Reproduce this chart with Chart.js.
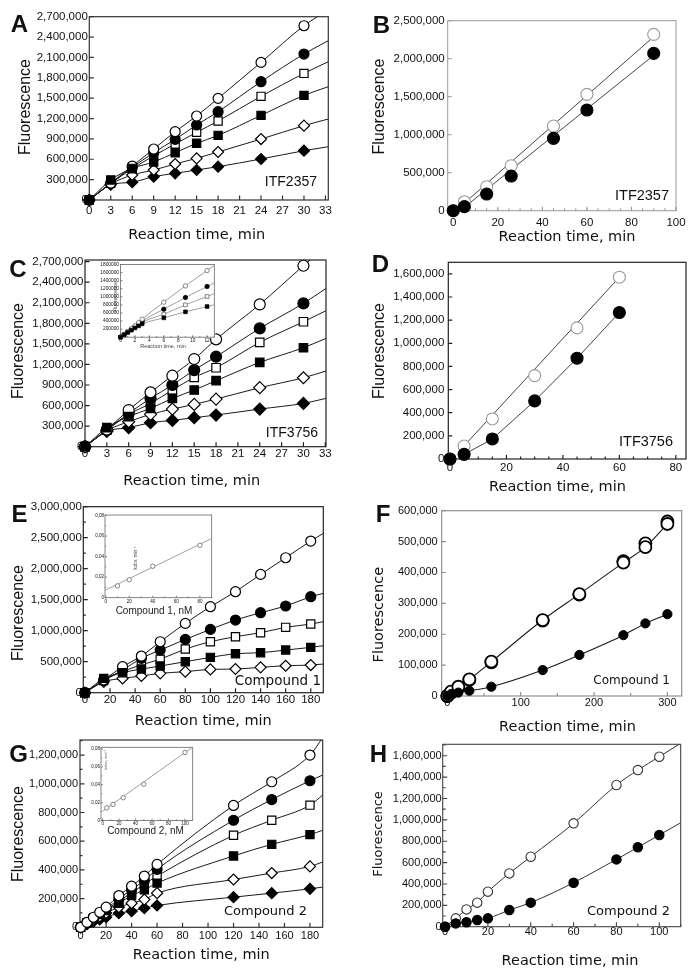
<!DOCTYPE html>
<html>
<head>
<meta charset="utf-8">
<title>Fluorescence progress curves</title>
<script src="https://cdn.jsdelivr.net/npm/chart.js@4.4.1/dist/chart.umd.min.js"></script>
<style>
  body { margin: 0; background: #fff; }
  #page { position: relative; width: 695px; height: 977px; background: #fff; }
  #page canvas { position: absolute; left: 0; top: 0; }
</style>
</head>
<body>
<div id="page"></div>
<script>
// ---------- A: ITF2357, 0-30 min ----------
const timeA = [0, 3, 6, 9, 12, 15, 18, 24, 30];
const aOpenCircle = [0, 250000, 500000, 751000, 1006000, 1237000, 1497000, 2027000, 2567000];
const aFilledCircle = [0, 245000, 480000, 697000, 893000, 1105000, 1301000, 1743000, 2150000];
const aOpenSquare = [0, 245000, 460000, 650000, 825000, 997000, 1163000, 1527000, 1865000];
const aFilledSquare = [0, 295000, 466000, 560000, 697000, 835000, 952000, 1247000, 1541000];
const aOpenDiamond = [0, 235000, 368000, 442000, 530000, 614000, 707000, 898000, 1095000];
const aFilledDiamond = [0, 225000, 262000, 344000, 393000, 442000, 491000, 604000, 726000];
const aLineEndX = 33.4;
const aLineEnd = [2800000, 2347000, 2037000, 1669000, 1193000, 785000];
const xTicksA = [0, 3, 6, 9, 12, 15, 18, 21, 24, 27, 30, 33];
const yTicksA = [0, 300000, 600000, 900000, 1200000, 1500000, 1800000, 2100000, 2400000, 2700000];

// ---------- B: ITF2357, 0-90 min ----------
const timeB = [0, 5, 15, 26, 45, 60, 90];
const bOpenCircle = [0, 118000, 316000, 592000, 1114000, 1531000, 2320000];
const bFilledCircle = [0, 53000, 219000, 456000, 952000, 1325000, 2070000];
const bFitX = [5, 90];
const bOpenFit = [100000, 2290000];
const bFilledFit = [45000, 2045000];
const xTicksB = [0, 20, 40, 60, 80, 100];
const yTicksB = [0, 500000, 1000000, 1500000, 2000000, 2500000];

// ---------- C: ITF3756, 0-30 min ----------
const timeC = [0, 3, 6, 9, 12, 15, 18, 24, 30];
const cOpenCircle = [0, 250000, 535000, 793000, 1036000, 1279000, 1566000, 2076000, 2640000];
const cFilledCircle = [0, 245000, 486000, 705000, 900000, 1118000, 1313000, 1726000, 2091000];
const cOpenSquare = [0, 240000, 470000, 632000, 827000, 1011000, 1152000, 1522000, 1823000];
const cFilledSquare = [0, 277000, 440000, 559000, 705000, 827000, 963000, 1230000, 1444000];
const cOpenDiamond = [0, 235000, 365000, 472000, 549000, 617000, 695000, 861000, 1006000];
const cFilledDiamond = [0, 225000, 277000, 350000, 384000, 423000, 462000, 549000, 632000];
const cLineEndX = 33.1;
const cLineEnd = [2920000, 2309000, 1984000, 1580000, 1104000, 705000];
const xTicksC = [0, 3, 6, 9, 12, 15, 18, 21, 24, 27, 30, 33];
const yTicksC = [0, 300000, 600000, 900000, 1200000, 1500000, 1800000, 2100000, 2400000, 2700000];

// C inset: first 12 min
const timeCi = [0, 0.5, 1, 1.5, 2, 2.5, 3, 6, 9, 12];
const ciOpenCircle = [0, 70000, 140000, 210000, 280000, 360000, 446000, 867000, 1271000, 1651000];
const ciFilledCircle = [0, 65000, 130000, 195000, 260000, 330000, 400000, 694000, 983000, 1255000];
const ciOpenSquare = [0, 62000, 125000, 185000, 245000, 305000, 370000, 570000, 801000, 1007000];
const ciFilledSquare = [0, 60000, 120000, 175000, 230000, 280000, 330000, 479000, 628000, 760000];
const ciLineEndX = 13;
const ciLineEnd = [1778000, 1346000, 1076000, 804000];
const xTicksCi = [0, 2, 4, 6, 8, 10, 12];
const yTicksCi = [200000, 400000, 600000, 800000, 1000000, 1200000, 1400000, 1600000, 1800000];

// ---------- D: ITF3756, 0-60 min ----------
const timeD = [0, 5, 15, 30, 45, 60];
const dOpenCircle = [0, 112000, 346000, 721000, 1133000, 1571000];
const dFilledCircle = [0, 40000, 173000, 502000, 871000, 1266000];
const dOpenFitX = [3.3, 60];
const dOpenFit = [69000, 1571000];
const xTicksD = [0, 20, 40, 60, 80];
const yTicksD = [0, 200000, 400000, 600000, 800000, 1000000, 1200000, 1400000, 1600000];

// ---------- E: Compound 1, 0-180 min ----------
const timeE = [0, 15, 30, 45, 60, 80, 100, 120, 140, 160, 180];
const eOpenCircle = [0, 205000, 419000, 591000, 822000, 1118000, 1387000, 1629000, 1908000, 2177000, 2446000];
const eFilledCircle = [0, 200000, 366000, 554000, 688000, 860000, 1021000, 1172000, 1290000, 1398000, 1548000];
const eOpenSquare = [0, 198000, 340000, 450000, 540000, 704000, 822000, 903000, 968000, 1054000, 1107000];
const eFilledSquare = [0, 231000, 323000, 382000, 430000, 500000, 570000, 629000, 645000, 688000, 731000];
const eOpenDiamond = [0, 175000, 231000, 269000, 312000, 339000, 376000, 382000, 409000, 435000, 446000];
const eLineEndX = 190;
const eLineEnd = [2570000, 1602000, 1145000, 758000, 462000];
const xTicksE = [0, 20, 40, 60, 80, 100, 120, 140, 160, 180];
const yTicksE = [0, 500000, 1000000, 1500000, 2000000, 2500000, 3000000];

// E inset: kobs vs compound 1
const concEi = [10, 20, 40, 80];
const kobsEi = [0.0115, 0.0174, 0.0306, 0.051];
const eiFitX = [0, 90];
const eiFit = [0.0075, 0.0576];
const xTicksEi = [0, 20, 40, 60, 80];
const yTicksEi = [0, 0.02, 0.04, 0.06, 0.08];

// ---------- F: Compound 1, 0-300 min ----------
const timeF = [0, 5, 15, 30, 60, 130, 180, 240, 270, 300];
const fOpenCircle1 = [0, 14000, 30000, 54000, 111000, 246000, 330000, 432000, 482000, 557000];
const fOpenCircle2 = [0, 10000, 27000, 52000, 109000, 244000, 328000, 437000, 494000, 565000];
const fFilledCircle = [0, 6000, 11000, 17000, 30000, 84000, 133000, 197000, 235000, 265000];
const xTicksF = [0, 100, 200, 300];
const yTicksF = [0, 100000, 200000, 300000, 400000, 500000, 600000];

// ---------- G: Compound 2, 0-180 min ----------
const timeG = [0, 5, 10, 15, 20, 30, 40, 50, 60, 120, 150, 180];
const gOpenCircle = [0, 35000, 70000, 105000, 140000, 221000, 287000, 357000, 438000, 849000, 1014000, 1200000];
const gFilledCircle = [0, 33000, 64000, 96000, 128000, 198000, 264000, 326000, 404000, 746000, 890000, 1021000];
const gOpenSquare = [0, 31000, 61000, 91000, 121000, 182000, 240000, 300000, 357000, 641000, 746000, 851000];
const gFilledSquare = [0, 30000, 60000, 88000, 117000, 168000, 221000, 261000, 308000, 497000, 578000, 646000];
const gOpenDiamond = [0, 27000, 52000, 76000, 100000, 140000, 168000, 193000, 238000, 333000, 378000, 424000];
const gFilledDiamond = [0, 22000, 40000, 55000, 70000, 98000, 112000, 133000, 152000, 210000, 238000, 268000];
const gLineEndX = 190;
const gLineEnd = [1320000, 1061000, 921000, 676000, 455000, 280000];
const xTicksG = [0, 20, 40, 60, 80, 100, 120, 140, 160, 180];
const yTicksG = [0, 200000, 400000, 600000, 800000, 1000000, 1200000];

// G inset: kobs vs compound 2
const concGi = [5, 12.5, 25, 50, 100];
const kobsGi = [0.0142, 0.018, 0.0255, 0.0406, 0.0762];
const giFitX = [0, 110];
const giFit = [0.0105, 0.0826];
const xTicksGi = [0, 20, 40, 60, 80, 100];
const yTicksGi = [0, 0.02, 0.04, 0.06, 0.08];

// ---------- H: Compound 2, 0-100 min ----------
const timeH = [0, 5, 10, 15, 20, 30, 40, 60, 80, 90, 100];
const hOpenCircle = [0, 78000, 162000, 225000, 328000, 499000, 655000, 967000, 1326000, 1466000, 1591000];
const hFilledCircle = [0, 31000, 41000, 62000, 78000, 156000, 225000, 412000, 630000, 743000, 858000];
const hLineEndX = 110;
const hLineEnd = [1716000, 973000];
const xTicksH = [0, 20, 40, 60, 80, 100];
const yTicksH = [0, 200000, 400000, 600000, 800000, 1000000, 1200000, 1400000, 1600000];

// ---------- drawing ----------
const W = 695, H = 977, AXW = 66, AXH = 20;
const SANS = '"Liberation Sans", Arial, sans-serif';
const VERD = '"DejaVu Sans", Verdana, sans-serif';
const UP = -Math.PI / 2;

const KIND = {
  oc: { style: 'circle', fill: '#fff' },
  fc: { style: 'circle', fill: '#000' },
  os: { style: 'rect', fill: '#fff' },
  fs: { style: 'rect', fill: '#000' },
  od: { style: 'rectRot', fill: '#fff' },
  fd: { style: 'rectRot', fill: '#000' },
};

function pts(xs, ys) {
  return xs.map((x, i) => ({ x, y: ys[i] }));
}

function markers(xs, ys, kind, look) {
  const k = KIND[kind];
  return {
    data: pts(xs, ys),
    showLine: false,
    order: 0,
    clip: false,
    pointStyle: k.style,
    pointRadius: look.r[k.style],
    pointBackgroundColor: k.fill,
    pointBorderColor: k.fill === '#fff' ? look.edge : '#000',
    pointBorderWidth: look.bw,
  };
}

function curve(xs, ys, look, smooth) {
  return {
    data: pts(xs, ys),
    showLine: true,
    order: 1,
    pointRadius: 0,
    borderColor: look.line,
    borderWidth: look.lw,
    cubicInterpolationMode: smooth ? 'monotone' : 'default',
    tension: 0,
  };
}

// series with its fitted line running on to the right edge
function withEnd(xs, ys, endX, endY) {
  return [xs.concat([endX]), ys.concat([endY])];
}

function steps(lo, hi, step) {
  const out = [];
  for (let v = lo; v <= hi + 1e-9; v += step) out.push(+v.toFixed(6));
  return out;
}

const commas = (v) => Math.round(v).toLocaleString('en-US');
const plain = (v) => String(v);
const decimalComma = (v) => (v === 0 ? '0' : v.toFixed(2).replace('.', ','));

function panelPlugin(p) {
  return {
    id: 'panel',
    beforeDraw(chart) {
      if (!p.paper) return;
      const { ctx, chartArea: a } = chart;
      ctx.save();
      ctx.fillStyle = p.paper;
      ctx.fillRect(a.left - 1, a.top - 1, a.width + 2, a.height + 2);
      ctx.restore();
    },
    beforeDatasetsDraw(chart) {
      const { ctx, chartArea: a, scales } = chart;
      const x = scales.x, y = scales.y;
      ctx.save();
      ctx.strokeStyle = p.frame;
      ctx.lineWidth = p.frameWidth;
      ctx.strokeRect(a.left, a.top, a.width, a.height);
      ctx.beginPath();
      const tickX = (v, len) => {
        const px = x.getPixelForValue(v);
        ctx.moveTo(px, a.bottom);
        ctx.lineTo(px, a.bottom - len);
      };
      const tickY = (v, len) => {
        const py = y.getPixelForValue(v);
        ctx.moveTo(a.left, py);
        ctx.lineTo(a.left + len, py);
      };
      x.ticks.forEach((t) => tickX(t.value, p.major));
      y.ticks.forEach((t) => tickY(t.value, p.major));
      if (p.xMinor) steps(p.xMinor[0], p.xMinor[1], p.xMinor[2]).forEach((v) => tickX(v, p.minor));
      if (p.yMinor) steps(p.yMinor[0], p.yMinor[1], p.yMinor[2]).forEach((v) => tickY(v, p.minor));
      ctx.stroke();
      ctx.restore();
    },
    afterDraw(chart) {
      const ctx = chart.ctx;
      (p.texts || []).forEach((t) => {
        ctx.save();
        ctx.font = t.font;
        ctx.fillStyle = t.color || '#111';
        ctx.textAlign = t.align || 'center';
        ctx.textBaseline = 'middle';
        ctx.translate(t.x, t.y);
        if (t.rot) ctx.rotate(t.rot);
        ctx.fillText(t.text, 0, 0);
        ctx.restore();
      });
    },
  };
}

function axis(p, isX) {
  const vals = isX ? p.xTicks : p.yTicks;
  const range = isX ? p.xRange : p.yRange;
  const fmt = isX ? (p.xFmt || plain) : (p.yFmt || commas);
  return {
    type: 'linear',
    position: isX ? 'bottom' : 'left',
    min: range[0],
    max: range[1],
    grid: { display: false, drawTicks: false },
    border: { display: false },
    ticks: {
      autoSkip: false,
      maxRotation: 0,
      minRotation: 0,
      padding: isX ? p.xPad : p.yPad,
      color: '#111',
      font: { family: SANS, size: p.tickSize },
      callback: (v) => fmt(v),
    },
    afterBuildTicks: (s) => {
      s.ticks = vals.map((v) => ({ value: v }));
    },
    afterFit: (s) => {
      if (isX) {
        s.height = AXH;
        s.paddingLeft = 0;
        s.paddingRight = 0;
      } else {
        s.width = AXW;
        s.paddingTop = 0;
        s.paddingBottom = 0;
      }
    },
  };
}

function makeChart(p) {
  const canvas = document.createElement('canvas');
  canvas.width = W;
  canvas.height = H;
  canvas.style.width = W + 'px';
  canvas.style.height = H + 'px';
  document.getElementById('page').appendChild(canvas);
  const [l, t, r, b] = p.box;
  return new Chart(canvas, {
    type: 'scatter',
    data: { datasets: p.datasets },
    options: {
      responsive: false,
      animation: false,
      devicePixelRatio: 1,
      events: [],
      layout: { padding: { left: l - AXW, top: t, right: W - r, bottom: H - b - AXH } },
      plugins: { legend: { display: false }, tooltip: { enabled: false } },
      scales: { x: axis(p, true), y: axis(p, false) },
    },
    plugins: [panelPlugin(p)],
  });
}

// looks
const lookA = { r: { circle: 5, rect: 5.8, rectRot: 5.5 }, bw: 1.2, edge: '#000', line: '#1a1a1a', lw: 1 };
const lookB = { r: { circle: 6, rect: 6, rectRot: 6 }, bw: 1.1, edge: '#9a9a9a', line: '#444', lw: 1 };
const lookF = { r: { circle: 6, rect: 6, rectRot: 6 }, bw: 1.8, edge: '#000', line: '#1a1a1a', lw: 1.1 };
const lookF2 = { r: { circle: 4.6, rect: 4.6, rectRot: 4.6 }, bw: 1, edge: '#000', line: '#1a1a1a', lw: 1.1 };
const lookH = { r: { circle: 4.7, rect: 4.7, rectRot: 4.7 }, bw: 1.1, edge: '#333', line: '#333', lw: 1 };
const lookIn = { r: { circle: 2.2, rect: 2.6, rectRot: 2.6 }, bw: 0.7, edge: '#555', line: '#888', lw: 0.8 };

function fan(xs, list, endX, ends, look) {
  // list: [values, kind] pairs, drawn first = on top
  const sets = [];
  list.forEach(([ys, kind]) => sets.push(markers(xs, ys, kind, look)));
  list.forEach(([ys], i) => {
    const [lx, ly] = withEnd(xs, ys, endX, ends[i]);
    sets.push(curve(lx, ly, look, true));
  });
  return sets;
}

const letter = (text, x, y) => ({ text, x, y, font: `bold 24px ${SANS}` });
const yTitle = (x, y, font) => ({ text: 'Fluorescence', x, y, rot: UP, font: font || `16px ${SANS}` });
const xTitle = (x, y) => ({ text: 'Reaction time, min', x, y, font: `14.5px ${VERD}` });
const tag = (text, x, y, font) => ({ text, x, y, align: 'right', font });

// A
makeChart({
  box: [89.3, 16.7, 328.3, 200], xRange: [0, 33.4], yRange: [0, 2700000],
  xTicks: xTicksA, yTicks: yTicksA, xPad: 3.8, yPad: 1.5, tickSize: 11.5,
  frame: '#333', frameWidth: 1.2, major: 4.5, minor: 2.5,
  datasets: fan(timeA, [
    [aFilledSquare, 'fs'], [aOpenCircle, 'oc'], [aFilledCircle, 'fc'],
    [aOpenSquare, 'os'], [aOpenDiamond, 'od'], [aFilledDiamond, 'fd'],
  ], aLineEndX, [aLineEnd[3], aLineEnd[0], aLineEnd[1], aLineEnd[2], aLineEnd[4], aLineEnd[5]], lookA),
  texts: [letter('A', 19.5, 25), yTitle(25.5, 107), xTitle(196.7, 235), tag('ITF2357', 317, 182, `14px ${SANS}`)],
});

// B
makeChart({
  box: [447.7, 20.7, 676, 210.7], xRange: [-2.5, 100], yRange: [0, 2500000],
  xTicks: xTicksB, yTicks: yTicksB, xPad: 5.1, yPad: 3, tickSize: 11.5,
  frame: '#999', frameWidth: 1, major: 4, minor: 2.5, xMinor: [0, 100, 5],
  datasets: [
    markers(timeB, bFilledCircle, 'fc', lookB),
    markers(timeB, bOpenCircle, 'oc', lookB),
    curve(bFitX, bOpenFit, lookB, false),
    curve(bFitX, bFilledFit, lookB, false),
  ],
  texts: [letter('B', 381.5, 26), yTitle(380, 106.5), xTitle(567, 237), tag('ITF2357', 669, 195.5, `14.5px ${SANS}`)],
});

// C
makeChart({
  box: [85, 260, 326, 446.7], xRange: [0, 33.1], yRange: [0, 2724000],
  xTicks: xTicksC, yTicks: yTicksC, xPad: 0.4, yPad: 1.5, tickSize: 11.5,
  frame: '#222', frameWidth: 1.2, major: 4.5, minor: 2.5,
  datasets: fan(timeC, [
    [cFilledSquare, 'fs'], [cOpenCircle, 'oc'], [cFilledCircle, 'fc'],
    [cOpenSquare, 'os'], [cOpenDiamond, 'od'], [cFilledDiamond, 'fd'],
  ], cLineEndX, [cLineEnd[3], cLineEnd[0], cLineEnd[1], cLineEnd[2], cLineEnd[4], cLineEnd[5]],
  { r: { circle: 5.5, rect: 6, rectRot: 6 }, bw: 1.2, edge: '#000', line: '#1a1a1a', lw: 1 }),
  texts: [letter('C', 18, 270), yTitle(19, 351), xTitle(191.7, 481), tag('ITF3756', 318, 433, `14px ${SANS}`)],
});

// C inset
makeChart({
  box: [120.5, 264.5, 214.3, 337.2], xRange: [0, 13], yRange: [0, 1800000],
  xTicks: xTicksCi, yTicks: yTicksCi, xPad: 0.9, yPad: 1.5, tickSize: 4.8, yFmt: plain,
  frame: '#666', frameWidth: 0.8, major: 2, minor: 1.2, xMinor: [0, 13, 1],
  paper: '#fff',
  datasets: fan(timeCi, [
    [ciFilledSquare, 'fs'], [ciOpenCircle, 'oc'], [ciFilledCircle, 'fc'], [ciOpenSquare, 'os'],
  ], ciLineEndX, [ciLineEnd[3], ciLineEnd[0], ciLineEnd[1], ciLineEnd[2]], lookIn),
  texts: [
    { text: 'Reaction time, min', x: 163, y: 346.5, font: `5.5px ${SANS}`, color: '#444' },
    { text: 'Fluorescence', x: 115.5, y: 297, rot: UP, font: `5px ${SANS}`, color: '#444' },
  ],
});

// D
makeChart({
  box: [448.3, 262.3, 686, 459], xRange: [-0.6, 83.6], yRange: [0, 1700000],
  xTicks: xTicksD, yTicks: yTicksD, xPad: 2.1, yPad: 4, tickSize: 11.5,
  frame: '#222', frameWidth: 1.2, major: 4, minor: 2.5, xMinor: [0, 80, 5],
  datasets: [
    markers(timeD, dFilledCircle, 'fc', lookB),
    markers(timeD, dOpenCircle, 'oc', lookB),
    curve(dOpenFitX, dOpenFit, lookB, false),
    curve(timeD.slice(1), dFilledCircle.slice(1), lookB, false),
  ],
  texts: [letter('D', 380.5, 265.5), yTitle(379.5, 351), xTitle(557.5, 487), tag('ITF3756', 673, 441.7, `14.5px ${SANS}`)],
});

// E
makeChart({
  box: [83.3, 506.7, 323.3, 692.7], xRange: [-1.3, 190], yRange: [0, 3000000],
  xTicks: xTicksE, yTicks: yTicksE, xPad: 0.4, yPad: 1.5, tickSize: 11.5,
  frame: '#222', frameWidth: 1.2, major: 4.5, minor: 2.5, yMinor: [250000, 2750000, 500000],
  datasets: fan(timeE, [
    [eFilledSquare, 'fs'], [eOpenCircle, 'oc'], [eFilledCircle, 'fc'],
    [eOpenSquare, 'os'], [eOpenDiamond, 'od'],
  ], eLineEndX, [eLineEnd[3], eLineEnd[0], eLineEnd[1], eLineEnd[2], eLineEnd[4]], lookA),
  texts: [letter('E', 19.5, 515), yTitle(18.5, 613), xTitle(203.3, 721), tag('Compound 1', 321, 681, `13.5px ${VERD}`)],
});

// E inset
makeChart({
  box: [105, 515, 211.7, 597.7], xRange: [-0.6, 90], yRange: [0, 0.0805],
  xTicks: xTicksEi, yTicks: yTicksEi, xPad: 1.1, yPad: 1, tickSize: 4.5, yFmt: decimalComma,
  frame: '#666', frameWidth: 0.8, major: 2, minor: 1.2, xMinor: [10, 90, 20], yMinor: [0.01, 0.08, 0.02],
  paper: '#fff',
  datasets: [
    markers(concEi, kobsEi, 'oc', lookIn),
    curve(eiFitX, eiFit, lookIn, false),
  ],
  texts: [
    { text: 'Compound 1, nM', x: 154, y: 611, font: `10px ${SANS}`, color: '#222' },
    { text: 'kobs, min⁻¹', x: 136, y: 558, rot: UP, font: `4.5px ${SANS}`, color: '#444' },
  ],
});

// F
makeChart({
  box: [441.7, 510.7, 681.7, 696], xRange: [-7.7, 319.5], yRange: [0, 600000],
  xTicks: xTicksF, yTicks: yTicksF, xPad: 0.7, yPad: 4, tickSize: 11,
  frame: '#888', frameWidth: 1.1, major: 4, minor: 3, xMinor: [50, 300, 100],
  datasets: [
    markers(timeF, fFilledCircle, 'fc', lookF2),
    markers(timeF, fOpenCircle1, 'oc', lookF),
    markers(timeF, fOpenCircle2, 'oc', lookF),
    curve(timeF, fOpenCircle1, lookF, true),
    curve(timeF, fFilledCircle, lookF, true),
  ],
  texts: [letter('F', 383, 515), yTitle(379, 614.7, `14.5px ${VERD}`), xTitle(567.5, 727), tag('Compound 1', 670, 680.7, `12px ${VERD}`)],
});

// G
makeChart({
  box: [80, 740, 322.7, 927.3], xRange: [-0.5, 190], yRange: [0, 1305000],
  xTicks: xTicksG, yTicks: yTicksG, xPad: 2.5, yPad: 2, tickSize: 11,
  frame: '#333', frameWidth: 1.2, major: 4.5, minor: 2.5, yMinor: [100000, 1300000, 200000],
  datasets: fan(timeG, [
    [gOpenCircle, 'oc'], [gFilledSquare, 'fs'], [gFilledCircle, 'fc'],
    [gOpenSquare, 'os'], [gOpenDiamond, 'od'], [gFilledDiamond, 'fd'],
  ], gLineEndX, [gLineEnd[0], gLineEnd[3], gLineEnd[1], gLineEnd[2], gLineEnd[4], gLineEnd[5]], lookA),
  texts: [letter('G', 18.5, 755), yTitle(18.5, 834), xTitle(201.3, 955.5), tag('Compound 2', 307, 911.7, `13px ${VERD}`)],
});

// G inset
makeChart({
  box: [101, 747.3, 192.7, 820.5], xRange: [-2, 109.4], yRange: [0, 0.082],
  xTicks: xTicksGi, yTicks: yTicksGi, xPad: 0.8, yPad: 1, tickSize: 4.5, yFmt: decimalComma,
  frame: '#666', frameWidth: 0.8, major: 2, minor: 1.2, xMinor: [10, 100, 20], yMinor: [0.01, 0.08, 0.02],
  paper: '#fff',
  datasets: [
    markers(concGi, kobsGi, 'oc', lookIn),
    curve(giFitX, giFit, lookIn, false),
  ],
  texts: [
    { text: 'Compound 2, nM', x: 145.5, y: 831.5, font: `10px ${SANS}`, color: '#222' },
    { text: 'kobs, min⁻¹', x: 106, y: 760, rot: UP, font: `4px ${SANS}`, color: '#444' },
  ],
});

// H
makeChart({
  box: [442.7, 744.3, 680.7, 926.7], xRange: [-1.1, 110], yRange: [0, 1707000],
  xTicks: xTicksH, yTicks: yTicksH, xPad: -1.3, yPad: 1, tickSize: 11,
  frame: '#444', frameWidth: 1.1, major: 4.5, minor: 3, xMinor: [10, 110, 20], yMinor: [100000, 1700000, 200000],
  datasets: fan(timeH, [
    [hFilledCircle, 'fc'], [hOpenCircle, 'oc'],
  ], hLineEndX, [hLineEnd[1], hLineEnd[0]], lookH),
  texts: [letter('H', 378.5, 755), yTitle(378.5, 834, `13px ${VERD}`), xTitle(570, 961.5), tag('Compound 2', 670, 911.7, `13px ${VERD}`)],
});
</script>
</body>
</html>
